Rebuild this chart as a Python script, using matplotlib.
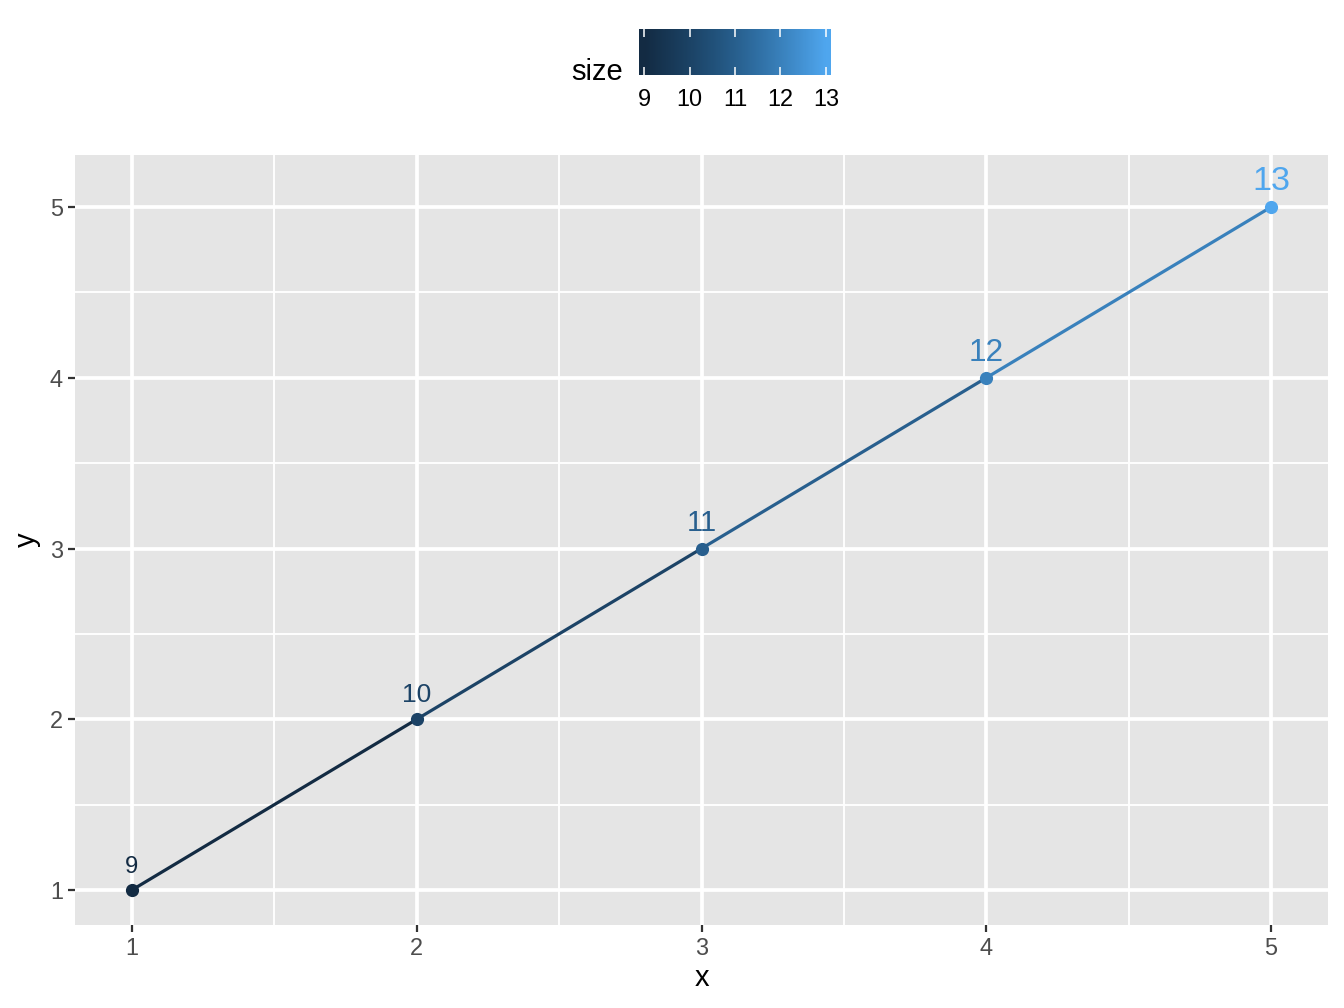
import numpy as np
import matplotlib
matplotlib.use("Agg")
import matplotlib.pyplot as plt
from matplotlib.colors import LinearSegmentedColormap

plt.rcParams['font.family'] = ['Liberation Sans', 'DejaVu Sans']

# data
x = [1, 2, 3, 4, 5]
y = [1, 2, 3, 4, 5]
size = [9, 10, 11, 12, 13]
size_ticks = [9, 10, 11, 12, 13]


# ggplot style gradient (#132B43 -> #56B1F7, interpolated in Lab space)
def hex_to_lab(h):
    rgb = np.array([int(h[i:i + 2], 16) for i in (1, 3, 5)]) / 255.0
    lin = np.where(rgb <= 0.04045, rgb / 12.92, ((rgb + 0.055) / 1.055) ** 2.4)
    m = np.array([[0.4124, 0.3576, 0.1805],
                  [0.2126, 0.7152, 0.0722],
                  [0.0193, 0.1192, 0.9505]])
    xyz = m @ lin / np.array([0.95047, 1.0, 1.08883])
    f = np.where(xyz > 0.008856, np.cbrt(xyz), 7.787 * xyz + 16 / 116)
    return np.array([116 * f[1] - 16, 500 * (f[0] - f[1]), 200 * (f[1] - f[2])])


def lab_to_rgb(lab):
    fy = (lab[0] + 16) / 116
    fx = fy + lab[1] / 500
    fz = fy - lab[2] / 200
    f = np.array([fx, fy, fz])
    xyz = np.where(f ** 3 > 0.008856, f ** 3, (f - 16 / 116) / 7.787)
    xyz = xyz * np.array([0.95047, 1.0, 1.08883])
    m = np.array([[3.2406, -1.5372, -0.4986],
                  [-0.9689, 1.8758, 0.0415],
                  [0.0557, -0.2040, 1.0570]])
    lin = m @ xyz
    rgb = np.where(lin <= 0.0031308, 12.92 * lin, 1.055 * np.clip(lin, 0, None) ** (1 / 2.4) - 0.055)
    return np.clip(rgb, 0, 1)


lo = hex_to_lab("#132B43")
hi = hex_to_lab("#4FA6EE")
cmap = LinearSegmentedColormap.from_list(
    "gg", [lab_to_rgb(lo + t * (hi - lo) - np.array([2.5 * np.sin(np.pi * t), 0, 0]))
           for t in np.linspace(0, 1, 256)])
vmin, vmax = min(size), max(size)


def col(v):
    return cmap((v - vmin) / (vmax - vmin))


fig = plt.figure(figsize=(13.44, 10.08), dpi=100)
ax = fig.add_axes([75 / 1344, 1 - 925 / 1008, 1253 / 1344, 770 / 1008])
ax.set_facecolor("#E5E5E5")
for s in ax.spines.values():
    s.set_visible(False)

# line segments coloured by start value
for i in range(len(x) - 1):
    ax.plot(x[i:i + 2], y[i:i + 2], color=col(size[i]), lw=2.3, solid_capstyle='butt', zorder=3)

for xi, yi, si in zip(x, y, size):
    ax.plot(xi, yi, 'o', color=col(si), markersize=9.5, markeredgewidth=0, zorder=4)
    ax.text(xi, yi + 0.1, str(si), color=col(si), fontsize=1.9 * si,
            ha='center', va='baseline', zorder=5)

ax.set_xlim(0.8, 5.2)
ax.set_ylim(0.795, 5.305)
ax.set_xticks([1, 2, 3, 4, 5])
ax.set_yticks([1, 2, 3, 4, 5])
ax.set_xticks([1.5, 2.5, 3.5, 4.5], minor=True)
ax.set_yticks([1.5, 2.5, 3.5, 4.5], minor=True)
ax.grid(which='major', color='white', lw=2.7)
ax.grid(which='minor', color='white', lw=1.35)
ax.set_axisbelow(True)
ax.tick_params(which='major', length=5.3, width=1.6, color='#333333',
               labelsize=16.9, labelcolor='#4D4D4D', pad=3.5)
ax.tick_params(which='minor', length=0)
ax.set_xlabel("x", fontsize=21, labelpad=3)
ax.set_ylabel("y", fontsize=21, labelpad=6)

# colourbar legend on top
cax = fig.add_axes([639 / 1344, 1 - 75 / 1008, 192 / 1344, 46 / 1008])
grad = np.linspace(8.89, 13.11, 300)
cax.imshow(np.clip((grad[None, :] - vmin) / (vmax - vmin), 0, 1), cmap=cmap,
           aspect='auto', extent=[8.89, 13.11, 0, 1], vmin=0, vmax=1)
cax.set_xlim(8.89, 13.11)
cax.set_ylim(0, 1)
for s in cax.spines.values():
    s.set_visible(False)
cax.set_yticks([])
cax.set_xticks(size_ticks)
cax.set_xticklabels([str(t) for t in size_ticks])
cax.tick_params(axis='x', direction='in', top=True, bottom=True, length=5.5, width=1.1,
                color='white', labelsize=16.9, labelcolor='black', pad=9)
fig.text(623 / 1344, 1 - 80 / 1008, "size", fontsize=21, ha='right', va='baseline')

fig.savefig("out.png", dpi=100)
